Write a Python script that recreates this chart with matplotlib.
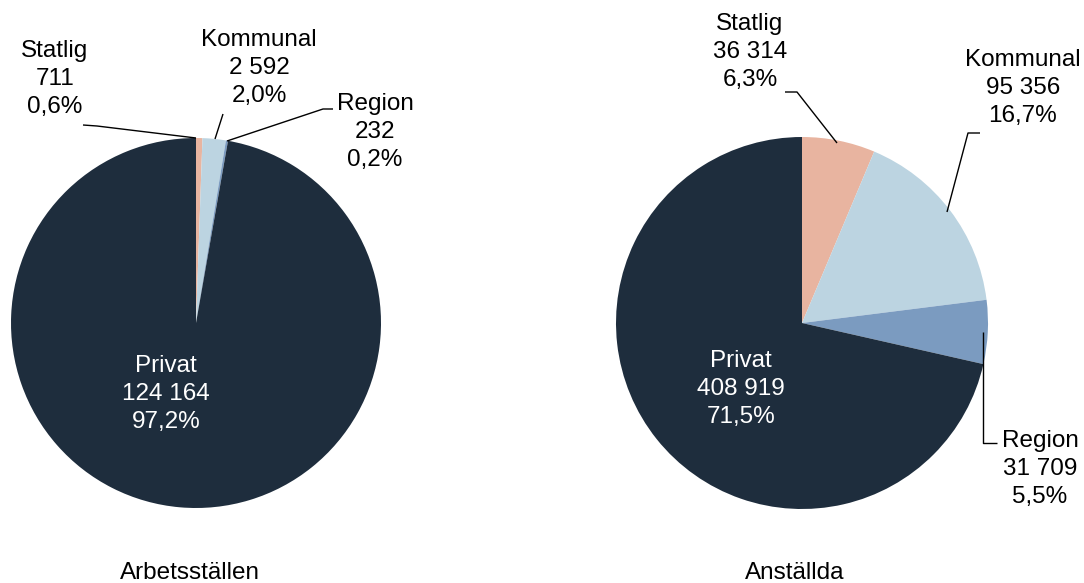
import matplotlib
matplotlib.use("Agg")
import matplotlib.pyplot as plt

plt.rcParams['font.family'] = ['Liberation Sans', 'DejaVu Sans']

categories = ["Statlig", "Kommunal", "Region", "Privat"]
arbetsstallen = [711, 2592, 232, 124164]
anstallda = [36314, 95356, 31709, 408919]
titles = ["Arbetsställen", "Anställda"]
colors = ["#E8B4A0", "#BCD4E1", "#7B9BC0", "#1E2D3D"]

W, H = 1084, 583
fig = plt.figure(figsize=(W / 100, H / 100), dpi=100)
ax = fig.add_axes([0, 0, 1, 1])


def Y(py):
    return H - py


def fmt_num(v):
    return f"{v:,}".replace(",", " ")


def fmt_pct(v, tot):
    return f"{100 * v / tot:.1f}%".replace(".", ",")


FS = 17.5
pies = [
    dict(vals=arbetsstallen, center=(196, 323), r=185,
         label_pos=[(55, 79), (259, 68), (375, 132), (166, 394)],
         leaders=[[(83, 125), (97, 126), (196, 138)],
                  [(223, 114), (215, 139)],
                  [(333, 109), (323, 109), (227, 141)],
                  None],
         title_pos=(190, 579)),
    dict(vals=anstallda, center=(802, 323), r=186,
         label_pos=[(750, 52), (1023, 88), (1040, 469), (741, 389)],
         leaders=[[(785, 92), (797, 92), (837, 143)],
                  [(980, 133), (968, 133), (947, 212)],
                  [(983, 332), (983, 443), (997, 443)],
                  None],
         title_pos=(795, 579)),
]

for p, title in zip(pies, titles):
    vals = p["vals"]
    tot = sum(vals)
    cx, cy = p["center"]
    ax.pie(vals, colors=colors, startangle=90, counterclock=False,
           center=(cx, Y(cy)), radius=p["r"],
           wedgeprops=dict(linewidth=0))
    for i, cat in enumerate(categories):
        lx, ly = p["label_pos"][i]
        txt = f"{cat}\n{fmt_num(vals[i])}\n{fmt_pct(vals[i], tot)}"
        col = "white" if cat == "Privat" else "black"
        ax.text(lx, Y(ly), txt, ha="center", va="center", fontsize=FS,
                color=col, linespacing=1.35)
        ld = p["leaders"][i]
        if ld:
            ax.plot([q[0] for q in ld], [Y(q[1]) for q in ld],
                    color="black", lw=1.0, solid_capstyle="butt")
    tx, ty = p["title_pos"]
    ax.text(tx, Y(ty), title, ha="center", va="baseline", fontsize=FS)

ax.set_xlim(0, W)
ax.set_ylim(0, H)
ax.set_aspect("equal", adjustable="datalim")
ax.axis("off")
fig.savefig("out.png", dpi=100)
